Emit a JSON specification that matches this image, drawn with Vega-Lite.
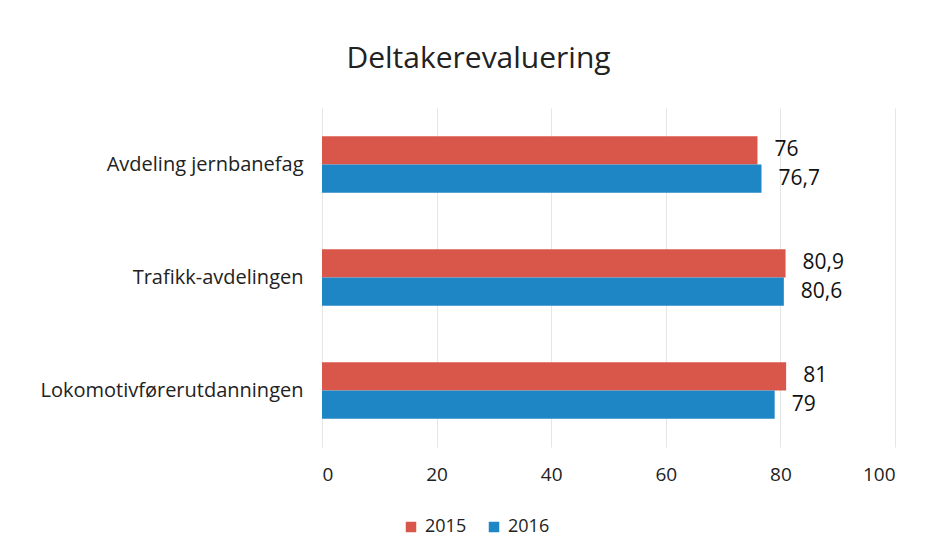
{
  "$schema": "https://vega.github.io/schema/vega-lite/v6.json",
  "width": 573,
  "height": 339,
  "autosize": {"type": "none"},
  "padding": {"left": 322, "top": 108, "right": 36, "bottom": 112},
  "background": "white",
  "config": {
    "locale": {"number": {"decimal": ",", "thousands": " ", "grouping": [3], "currency": ["", " kr"]}},
    "view": {"stroke": null},
    "font": "Open Sans"
  },
  "title": {
    "text": "Deltakerevaluering",
    "fontSize": 30,
    "font": "Open Sans",
    "fontWeight": "normal",
    "color": "#222222",
    "anchor": "middle",
    "dx": -130,
    "offset": 34
  },
  "data": {
    "values": [
      {"avdeling": "Avdeling jernbanefag", "year": "2015", "score": 76},
      {"avdeling": "Avdeling jernbanefag", "year": "2016", "score": 76.7},
      {"avdeling": "Trafikk-avdelingen", "year": "2015", "score": 80.9},
      {"avdeling": "Trafikk-avdelingen", "year": "2016", "score": 80.6},
      {"avdeling": "Lokomotivførerutdanningen", "year": "2015", "score": 81},
      {"avdeling": "Lokomotivførerutdanningen", "year": "2016", "score": 79}
    ]
  },
  "encoding": {
    "y": {
      "field": "avdeling",
      "type": "nominal",
      "sort": ["Avdeling jernbanefag", "Trafikk-avdelingen", "Lokomotivførerutdanningen"],
      "scale": {"paddingInner": 0.5, "paddingOuter": 0.25},
      "axis": {
        "title": null,
        "domain": false,
        "ticks": false,
        "labelFontSize": 20,
        "labelPadding": 19,
        "labelLimit": 0,
        "labelColor": "#222222",
        "labelFont": "Open Sans"
      }
    },
    "yOffset": {
      "field": "year",
      "type": "nominal",
      "sort": ["2015", "2016"],
      "scale": {"paddingInner": 0, "paddingOuter": 0}
    },
    "x": {
      "field": "score",
      "type": "quantitative",
      "scale": {"domain": [0, 100], "nice": false},
      "axis": {
        "title": null,
        "values": [0, 20, 40, 60, 80, 100],
        "domain": false,
        "ticks": false,
        "grid": true,
        "gridColor": "#e6e6e6",
        "gridWidth": 1,
        "labelFontSize": 19,
        "labelPadding": 18,
        "labelColor": "#222222",
        "labelFont": "Open Sans",
        "format": "d"
      }
    }
  },
  "layer": [
    {
      "mark": {"type": "bar"},
      "encoding": {
        "color": {
          "field": "year",
          "type": "nominal",
          "scale": {"domain": ["2015", "2016"], "range": ["#D9574A", "#1F86C6"]},
          "legend": {
            "title": null,
            "orient": "none",
            "legendX": 80,
            "legendY": 410,
            "direction": "horizontal",
            "symbolType": "square",
            "symbolSize": 110,
            "symbolStrokeWidth": 0,
            "labelFontSize": 18,
            "labelColor": "#222222",
            "labelFont": "Open Sans",
            "columnPadding": 18,
            "labelOffset": 5
          }
        }
      }
    },
    {
      "mark": {"type": "text", "align": "left", "baseline": "middle", "dx": 17, "fontSize": 21, "color": "#111111", "font": "Open Sans"},
      "encoding": {
        "text": {"field": "score", "type": "quantitative", "format": ".1~f"}
      }
    }
  ]
}
